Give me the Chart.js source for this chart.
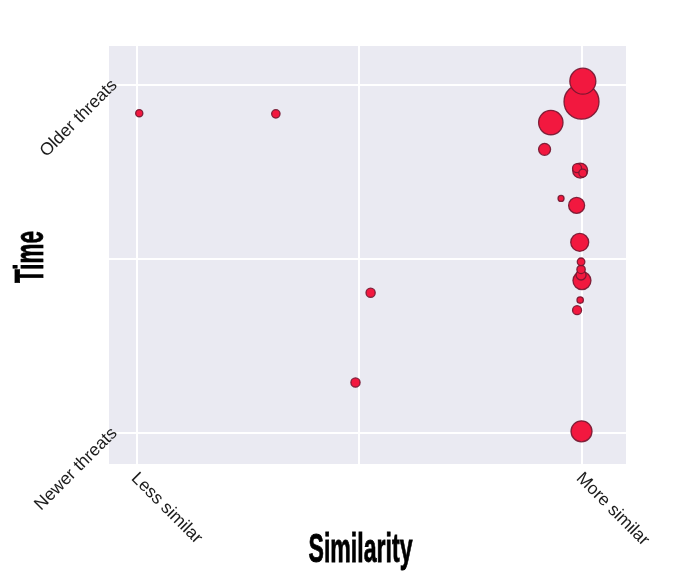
<!DOCTYPE html>
<html>
<head>
<meta charset="utf-8">
<script src="https://cdn.jsdelivr.net/npm/chart.js@4.4.1/dist/chart.umd.min.js"></script>
<style>
  html, body { margin: 0; padding: 0; background: #ffffff; }
  #wrap { width: 700px; height: 579px; }
</style>
</head>
<body>
<div id="wrap"><canvas id="chart"></canvas></div>
<script>
// similarity (0 = less similar, 1 = more similar)
const similarity = [0.999, 1.002, 0.930, 0.916, 0.996, 0.989, 1.002, 0.953, 0.988, 0.995,
  1.000, 0.998, 0.998, 0.998, 0.996, 0.989, 0.999, 0.005, 0.312, 0.525, 0.491];
// time (0 = newer threats, 1 = older threats)
const timeValues = [0.952, 1.011, 0.892, 0.815, 0.754, 0.761, 0.747, 0.674, 0.654, 0.548,
  0.438, 0.454, 0.470, 0.492, 0.382, 0.353, 0.005, 0.919, 0.917, 0.403, 0.145];
// bubble size
const bubbleSize = [17.5, 13, 12.2, 6, 7.5, 4.5, 4, 3, 8, 9,
  9, 5, 4.2, 3.8, 3.2, 4.5, 10.5, 3.6, 4.2, 4.6, 4.6];

const xTickValues = [0, 0.5, 1];
const xTickLabels = ['Less similar', '', 'More similar'];
const yTickValues = [0, 0.5, 1];
const yTickLabels = ['Newer threats', '', 'Older threats'];

const points = similarity.map((x, i) => ({ x: x, y: timeValues[i], r: bubbleSize[i] }));

function drawCondensed(ctx, text, targetWidth) {
  const w = ctx.measureText(text).width;
  ctx.scale(targetWidth / w, 1);
  ctx.fillText(text, 0, 0);
  ctx.lineWidth = 0.8;
  ctx.strokeText(text, 0, 0);
}

const labelsPlugin = {
  id: 'labels',
  beforeDraw: (chart) => {
    const ctx = chart.ctx;
    const a = chart.chartArea;
    ctx.save();
    ctx.fillStyle = '#eaeaf2';
    ctx.fillRect(a.left, a.top, a.right - a.left, a.bottom - a.top);
    ctx.restore();
  },
  afterDraw: (chart) => {
    const ctx = chart.ctx;
    const a = chart.chartArea;
    const xs = chart.scales.x;
    const ys = chart.scales.y;
    ctx.save();
    ctx.fillStyle = '#1c1c1c';
    ctx.font = '17.5px "Liberation Sans", Arial, sans-serif';
    ctx.textBaseline = 'alphabetic';

    // y tick labels, rotated 45 deg, ending at the tick
    yTickValues.forEach((v, i) => {
      if (!yTickLabels[i]) return;
      ctx.save();
      ctx.translate(a.left + 9, ys.getPixelForValue(v) + 1);
      ctx.rotate(-Math.PI / 4);
      ctx.textAlign = 'right';
      ctx.fillText(yTickLabels[i], 0, 0);
      ctx.restore();
    });

    // x tick labels, rotated -45 deg, starting at the tick
    xTickValues.forEach((v, i) => {
      if (!xTickLabels[i]) return;
      ctx.save();
      ctx.translate(xs.getPixelForValue(v) - 6.5, a.bottom + 15);
      ctx.rotate(Math.PI / 4);
      ctx.textAlign = 'left';
      ctx.fillText(xTickLabels[i], 0, 0);
      ctx.restore();
    });

    // axis titles
    ctx.fillStyle = '#000000';
    ctx.strokeStyle = '#000000';
    ctx.font = 'bold 40px "Liberation Sans Narrow", "Liberation Sans", Arial, sans-serif';
    ctx.textAlign = 'center';

    ctx.save();
    ctx.translate((a.left + a.right) / 2 - 7, a.bottom + 98);
    drawCondensed(ctx, 'Similarity', 104);
    ctx.restore();

    ctx.save();
    ctx.translate(43, (a.top + a.bottom) / 2 + 2);
    ctx.rotate(-Math.PI / 2);
    drawCondensed(ctx, 'Time', 52);
    ctx.restore();

    ctx.restore();
  }
};

function fixedTicks(values) {
  return (scale) => {
    scale.ticks = values.map(v => ({ value: v }));
  };
}

new Chart(document.getElementById('chart').getContext('2d'), {
  type: 'bubble',
  data: {
    datasets: [{
      data: points,
      backgroundColor: '#f2183f',
      borderColor: 'rgba(115, 22, 48, 0.9)',
      borderWidth: 1.3,
      hoverRadius: 0
    }]
  },
  options: {
    responsive: true,
    maintainAspectRatio: false,
    animation: false,
    events: [],
    layout: {
      padding: { left: 109, right: 74, top: 46, bottom: 115 }
    },
    scales: {
      x: {
        type: 'linear',
        min: -0.063,
        max: 1.099,
        afterBuildTicks: fixedTicks(xTickValues),
        ticks: { display: false },
        grid: { color: '#ffffff', lineWidth: 2, drawTicks: false },
        border: { display: false }
      },
      y: {
        type: 'linear',
        min: -0.089,
        max: 1.112,
        afterBuildTicks: fixedTicks(yTickValues),
        ticks: { display: false },
        grid: { color: '#ffffff', lineWidth: 2, drawTicks: false },
        border: { display: false }
      }
    },
    plugins: {
      legend: { display: false },
      tooltip: { enabled: false }
    }
  },
  plugins: [labelsPlugin]
});
</script>
</body>
</html>
